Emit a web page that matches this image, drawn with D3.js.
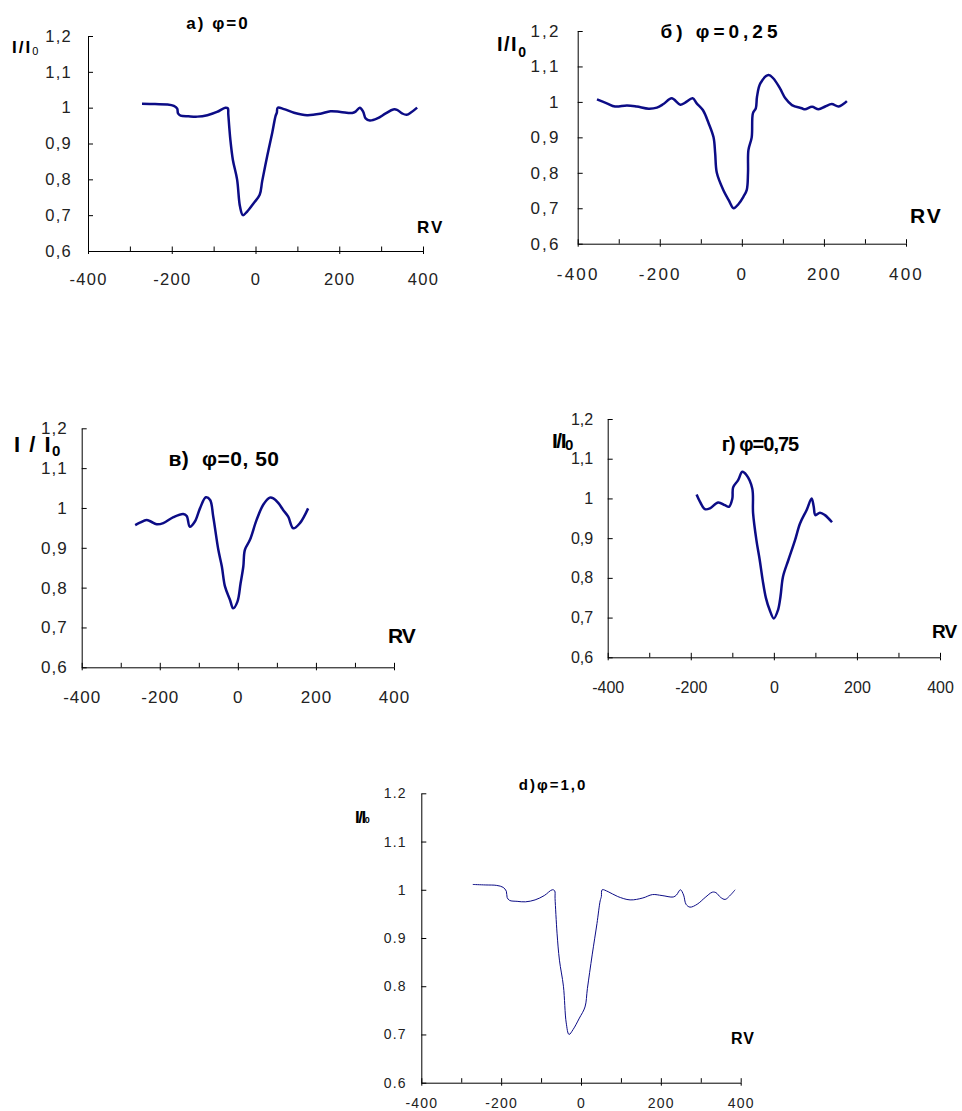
<!DOCTYPE html>
<html>
<head>
<meta charset="UTF-8">
<title>Line profiles</title>
<script src="https://d3js.org/d3.v7.min.js"></script>
<style>
  body { margin: 0; background: #fff; }
  svg { display: block; }
  .axis path, .axis line { stroke: #000; }
  text { font-family: "Liberation Sans", Arial, sans-serif; }
</style>
</head>
<body>
<script>
// tick values and labels
var xMinor = [-400, -300, -200, -100, 0, 100, 200, 300, 400];
var xMajor = [-400, -200, 0, 200, 400];
var xLabels = ["-400", "-200", "0", "200", "400"];
var yTicks = [0.6, 0.7, 0.8, 0.9, 1.0, 1.1, 1.2];
var yLabelsComma = ["0,6", "0,7", "0,8", "0,9", "1", "1,1", "1,2"];
var yLabelsDot = ["0.6", "0.7", "0.8", "0.9", "1", "1.1", "1.2"];

// a) phi = 0
var rvA = [-271, -240, -211, -195, -187, -185, -179, -160, -139, -115, -92, -72, -66, -65, -60, -54, -44, -37, -30, -20, -4, 10, 16, 28, 40, 48, 51, 53, 68, 92, 123, 155, 179, 203, 231, 239, 249, 257, 263, 273, 291, 311, 329, 338, 350, 361, 372, 386];
var intA = [1.011, 1.010, 1.009, 1.005, 0.997, 0.984, 0.978, 0.976, 0.975, 0.979, 0.988, 1.0, 0.998, 0.982, 0.91, 0.854, 0.8, 0.724, 0.70, 0.71, 0.734, 0.757, 0.795, 0.865, 0.93, 0.977, 0.986, 1.0, 0.996, 0.986, 0.979, 0.983, 0.99, 0.988, 0.985, 0.989, 1.0, 0.989, 0.97, 0.964, 0.97, 0.984, 0.995, 0.994, 0.984, 0.98, 0.987, 1.0];

// б) phi = 0,25
var rvB = [-353, -329, -309, -280, -256, -227, -207, -191, -171, -150, -138, -120, -110, -95, -81, -69, -65, -61, -45, -32, -20, -8, 4, 12, 15, 16, 24, 27, 34, 37, 45, 65, 77, 93, 106, 122, 146, 154, 171, 187, 203, 219, 236, 256];
var intB = [1.007, 0.996, 0.987, 0.99, 0.987, 0.981, 0.984, 0.994, 1.01, 0.992, 0.998, 1.01, 0.996, 0.977, 0.94, 0.9, 0.855, 0.8, 0.751, 0.723, 0.7, 0.712, 0.733, 0.752, 0.8, 0.864, 0.9, 0.968, 0.982, 1.015, 1.052, 1.076, 1.066, 1.038, 1.01, 0.991, 0.982, 0.979, 0.986, 0.979, 0.987, 0.994, 0.987, 1.002];

// в) phi = 0,50
var rvV = [-263, -251, -234, -223, -208, -191, -165, -140, -131, -123, -110, -97, -82, -71, -63, -50, -41, -33, -20, -12, -1, 7, 14, 18, 31, 48, 65, 82, 91, 104, 116, 129, 142, 159, 180];
var intV = [0.957, 0.963, 0.970, 0.966, 0.959, 0.962, 0.977, 0.985, 0.98, 0.953, 0.966, 0.999, 1.027, 1.02, 0.978, 0.895, 0.853, 0.803, 0.769, 0.748, 0.765, 0.811, 0.853, 0.895, 0.92, 0.97, 1.008, 1.026, 1.024, 1.012, 0.995, 0.978, 0.949, 0.962, 0.999];

// г) phi = 0,75
var rvG = [-186, -178, -166, -154, -134, -118, -108, -100, -98, -86, -76, -66, -52, -50, -42, -34, -27, -19, -10, 0, 10, 16, 22, 35, 51, 63, 79, 91, 96, 100, 111, 123, 140];
var intG = [1.010, 0.992, 0.973, 0.975, 0.990, 0.983, 0.979, 0.999, 1.028, 1.046, 1.067, 1.059, 1.025, 0.963, 0.895, 0.845, 0.795, 0.749, 0.719, 0.698, 0.719, 0.753, 0.803, 0.845, 0.895, 0.937, 0.971, 1.0, 0.979, 0.958, 0.964, 0.958, 0.94];

// d) phi = 1,0 (same profile as a)
var rvD = rvA;
var intD = intA;

var lineColor = "#0c0c86";

var panels = [
  {rv: rvA, val: intA, x0: 88, x1: 423, yT: 36, yB: 251, fs: 16.5, ls: 1.3, yPad: 16, xPad: 22, yLab: yLabelsComma, lw: 2.5,
   title: {t: "a) φ=0", x: 218, y: 29, fs: 17, ls: 2},
   yl: {t: "I/I", x: 12, y: 53, fs: 17, ls: 2, sfs: 11, sw: "normal", sdy: 2},
   rvl: {x: 417, y: 233, fs: 17, ls: 2}},
  {rv: rvB, val: intB, x0: 577.7, x1: 906, yT: 31, yB: 243.7, fs: 17, ls: 2.2, yPad: 17, xPad: 24, yLab: yLabelsComma, lw: 2.5,
   title: {t: "б) φ=0,25", x: 721, y: 38, fs: 19, ls: 4},
   yl: {t: "I/I", x: 497, y: 51, fs: 20, ls: 1.5, sfs: 14, sw: "bold", sdy: 6},
   rvl: {x: 910, y: 223, fs: 21, ls: 2}},
  {rv: rvV, val: intV, x0: 81.7, x1: 394, yT: 428.3, yB: 667.3, fs: 17, ls: 1, yPad: 14, xPad: 24, yLab: yLabelsComma, lw: 2.5,
   title: {t: "в)  φ=0, 50", x: 224, y: 466, fs: 21, ls: 0.5},
   yl: {t: "I / I", x: 14, y: 452, fs: 22, ls: 1.5, sfs: 15, sw: "bold", sdy: 4},
   rvl: {x: 388, y: 643, fs: 21, ls: -1}},
  {rv: rvG, val: intG, x0: 607.7, x1: 940, yT: 419, yB: 657.3, fs: 16, ls: 0, yPad: 14.5, xPad: 24.3, yLab: yLabelsComma, lw: 2.5,
   title: {t: "г) φ=0,75", x: 760, y: 451, fs: 20, ls: -1},
   yl: {t: "I/I", x: 552, y: 448, fs: 21, ls: -1.5, sfs: 15, sw: "bold", sdy: 2},
   rvl: {x: 932, y: 638, fs: 19, ls: -1}},
  {rv: rvD, val: intD, x0: 421.3, x1: 740.7, yT: 793.3, yB: 1082.7, fs: 14, ls: 1.2, yPad: 14.5, xPad: 15.5, yLab: yLabelsDot, lw: 1,
   title: {t: "d)φ=1,0", x: 553, y: 790, fs: 15, ls: 2},
   yl: {t: "I/I", x: 355, y: 823, fs: 17, ls: -1.5, sfs: 9, sw: "bold", sdy: 0},
   rvl: {x: 731, y: 1044, fs: 16, ls: 1}}
];

var svg = d3.select("body").append("svg")
  .attr("width", 962)
  .attr("height", 1111);

panels.forEach(function(p) {
  var x = d3.scaleLinear().domain([-400, 400]).range([p.x0, p.x1]);
  var y = d3.scaleLinear().domain([0.6, 1.2]).range([p.yB, p.yT]);
  var g = svg.append("g");

  // x axis: all ticks upward, labels on the even hundreds
  var gx = g.append("g")
    .attr("class", "axis")
    .attr("transform", "translate(0," + p.yB + ")")
    .call(d3.axisBottom(x).tickValues(xMinor).tickSizeInner(-4.5).tickSizeOuter(0).tickPadding(p.xPad)
      .tickFormat(function(d) { var i = xMajor.indexOf(d); return i < 0 ? "" : xLabels[i]; }));
  // major ticks cross below the line
  g.append("g")
    .attr("class", "axis")
    .attr("transform", "translate(0," + p.yB + ")")
    .call(d3.axisBottom(x).tickValues(xMajor).tickSize(3).tickFormat(""))
    .select(".domain").remove();

  var gy = g.append("g")
    .attr("class", "axis")
    .attr("transform", "translate(" + p.x0 + ",0)")
    .call(d3.axisLeft(y).tickValues(yTicks).tickSizeInner(-5).tickSizeOuter(0).tickPadding(p.yPad)
      .tickFormat(function(d, i) { return p.yLab[i]; }));

  [gx, gy].forEach(function(a) {
    a.attr("font-family", null).attr("font-size", null);
    a.selectAll("text")
      .style("font-size", p.fs + "px")
      .style("letter-spacing", p.ls + "px")
      .attr("fill", "#222");
  });

  var line = d3.line()
    .x(function(d, i) { return x(p.rv[i]); })
    .y(function(d) { return y(d); })
    .curve(d3.curveCatmullRom.alpha(0.5));

  g.append("path")
    .attr("d", line(p.val))
    .attr("fill", "none")
    .attr("stroke", lineColor)
    .attr("stroke-width", p.lw)
    .attr("stroke-linejoin", "round");

  g.append("text")
    .attr("x", p.title.x)
    .attr("y", p.title.y)
    .attr("text-anchor", "middle")
    .style("font-weight", "bold")
    .style("font-size", p.title.fs + "px")
    .style("letter-spacing", p.title.ls + "px")
    .style("white-space", "pre")
    .text(p.title.t);

  var yl = g.append("text")
    .attr("x", p.yl.x)
    .attr("y", p.yl.y)
    .style("font-weight", "bold")
    .style("font-size", p.yl.fs + "px")
    .style("letter-spacing", p.yl.ls + "px");
  yl.append("tspan").text(p.yl.t);
  yl.append("tspan")
    .attr("dy", p.yl.sdy)
    .style("font-size", p.yl.sfs + "px")
    .style("font-weight", p.yl.sw)
    .style("letter-spacing", "0px")
    .text("0");

  g.append("text")
    .attr("x", p.rvl.x)
    .attr("y", p.rvl.y)
    .style("font-weight", "bold")
    .style("font-size", p.rvl.fs + "px")
    .style("letter-spacing", p.rvl.ls + "px")
    .text("RV");
});
</script>
</body>
</html>
